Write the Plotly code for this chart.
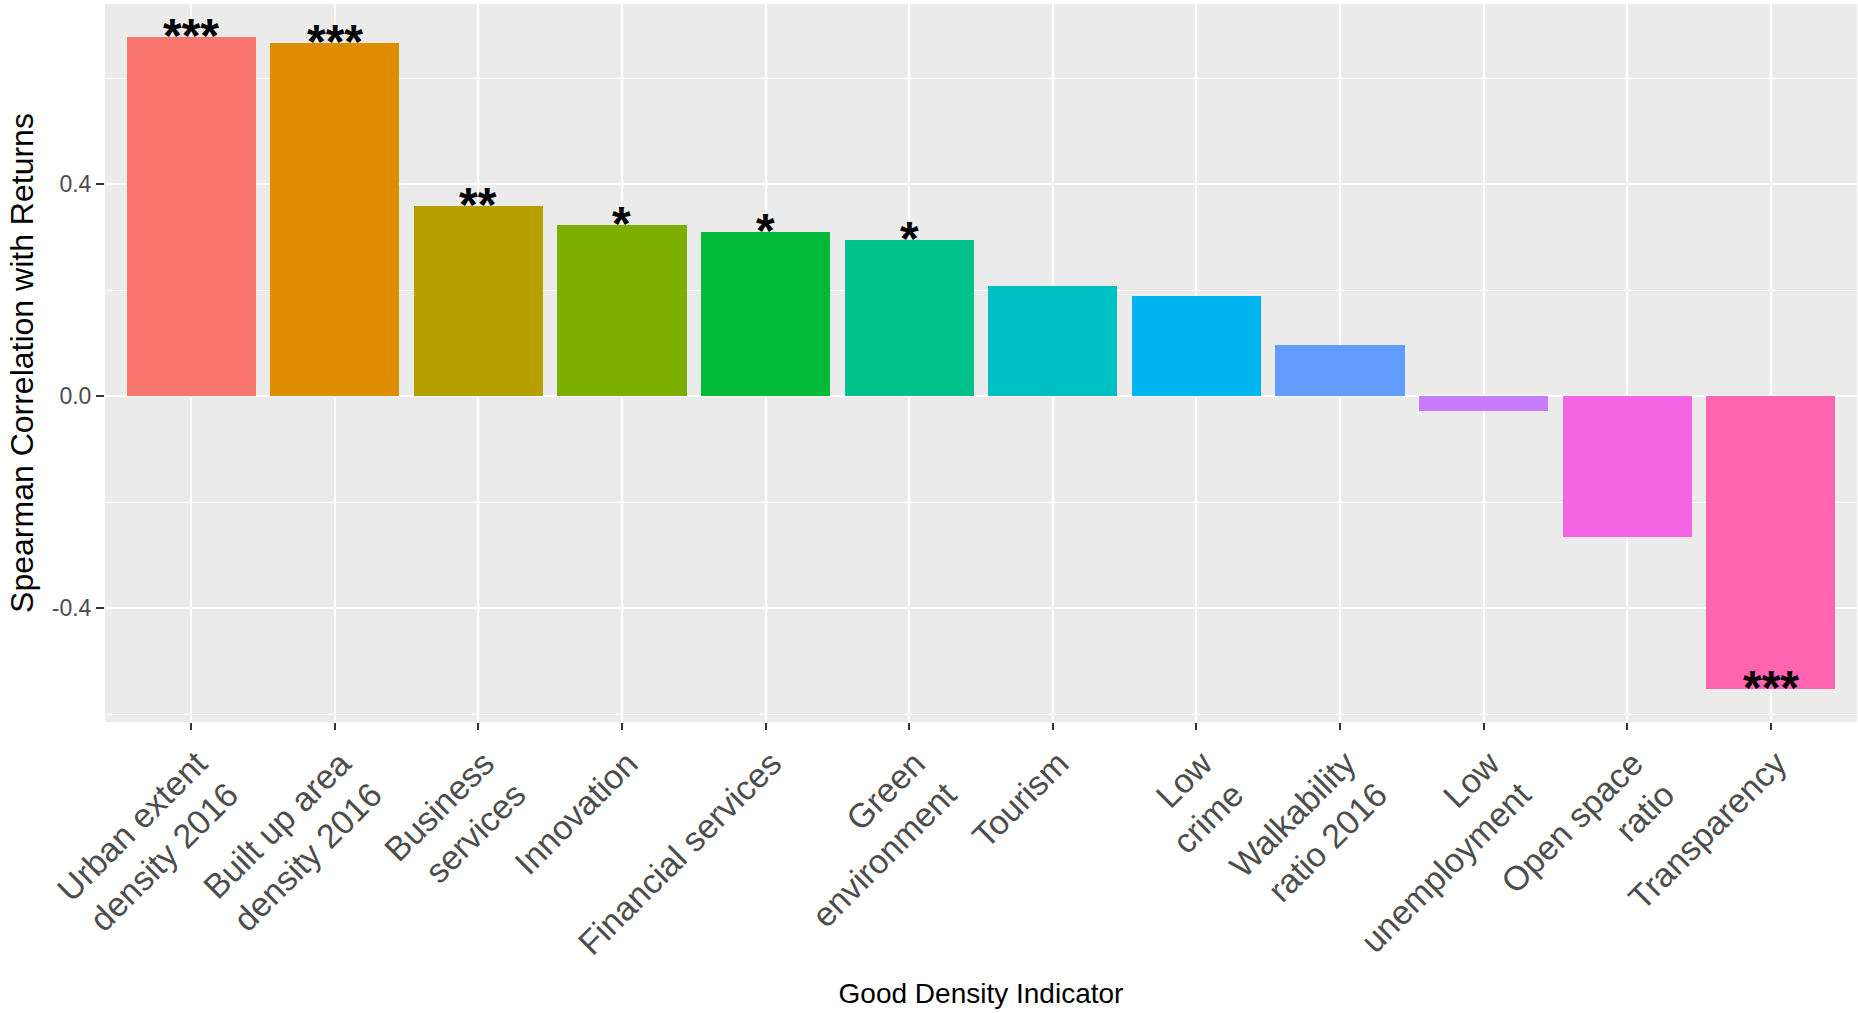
import plotly.graph_objects as go

# Spearman correlation of each density indicator with returns
categories = [
    "Urban extent<br>density 2016",
    "Built up area<br>density 2016",
    "Business<br>services",
    "Innovation",
    "Financial services",
    "Green<br>environment",
    "Tourism",
    "Low<br>crime",
    "Walkability<br>ratio 2016",
    "Low<br>unemployment",
    "Open space<br>ratio",
    "Transparency",
]
correlations = [0.678, 0.666, 0.359, 0.323, 0.310, 0.294, 0.207, 0.189, 0.097, -0.028, -0.265, -0.553]
significance = ["***", "***", "**", "*", "*", "*", "", "", "", "", "", "***"]
bar_colors = ["#F8766D", "#DE8C00", "#B79F00", "#7CAE00", "#00BA38", "#00C08B",
              "#00BFC4", "#00B4F0", "#619CFF", "#C77CFF", "#F564E3", "#FF64B0"]
y_tick_values = [-0.4, 0.0, 0.4]
y_tick_labels = ["-0.4", "0.0", "0.4"]
y_minor_values = [-0.6, -0.2, 0.2, 0.6]

# ggplot-style 5% expansion of the value range
lo = min(min(correlations), 0.0)
hi = max(max(correlations), 0.0)
pad = 0.05 * (hi - lo)
y_range = [lo - pad, hi + pad]

FONT = "Liberation Sans, Arial, sans-serif"

fig = go.Figure(
    go.Bar(
        x=list(range(len(categories))),
        y=correlations,
        width=0.9,
        marker=dict(color=bar_colors, line=dict(width=0)),
        showlegend=False,
    )
)

# significance stars sit with their lower edge on the bar end
STAR_SIZE = 48
STAR_SHIFT = -27
for i, (val, s) in enumerate(zip(correlations, significance)):
    if s:
        fig.add_annotation(
            x=i, y=val, xref="x", yref="y", text="<b>" + s + "</b>", showarrow=False,
            xanchor="center", yanchor="bottom", yshift=STAR_SHIFT,
            font=dict(family=FONT, size=STAR_SIZE, color="black"),
        )

fig.update_layout(
    width=1858,
    height=1013,
    margin=dict(l=105, r=1, t=4, b=291),
    paper_bgcolor="white",
    plot_bgcolor="#EBEBEB",
    font=dict(family=FONT),
    bargap=0,
)

fig.update_xaxes(
    tickmode="array",
    tickvals=list(range(len(categories))),
    ticktext=categories,
    range=[-0.6, len(categories) - 0.4],
    showgrid=True, gridcolor="white", gridwidth=2,
    zeroline=False, showline=False,
    ticks="outside", ticklen=7, tickwidth=1.5, tickcolor="#333333",
    tickangle=-45,
    ticklabelshift=6,
    tickfont=dict(family=FONT, size=34, color="#4D4D4D"),
    title=dict(text="Good Density Indicator", standoff=22,
               font=dict(family=FONT, size=28, color="black")),
)

fig.update_yaxes(
    range=y_range,
    tickmode="array",
    tickvals=y_tick_values,
    ticktext=y_tick_labels,
    showgrid=True, gridcolor="white", gridwidth=2,
    minor=dict(tickmode="array", tickvals=y_minor_values, showgrid=True,
               gridcolor="white", gridwidth=1.2, ticks=""),
    zeroline=False, showline=False,
    ticks="outside", ticklen=8, tickwidth=1.5, tickcolor="#333333",
    tickfont=dict(family=FONT, size=23, color="#4D4D4D"),
    title=dict(text="Spearman Correlation with Returns", standoff=8,
               font=dict(family=FONT, size=32, color="black")),
)

fig.write_html("out.html")
